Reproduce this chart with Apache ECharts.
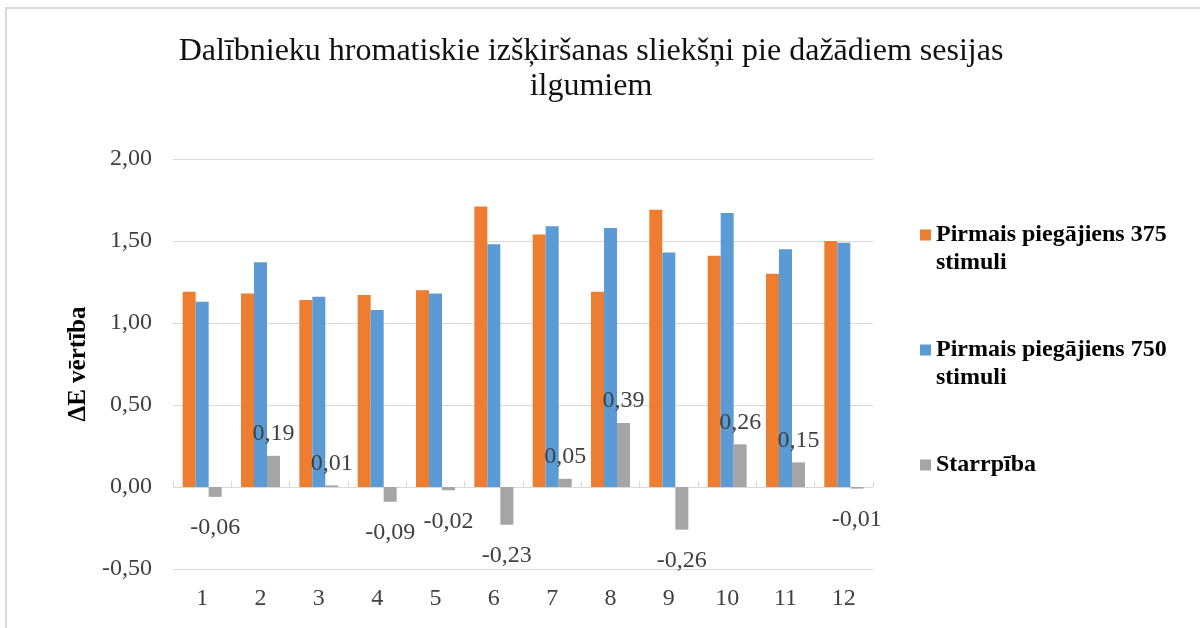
<!DOCTYPE html>
<html>
<head>
<meta charset="utf-8">
<script src="https://cdn.jsdelivr.net/npm/echarts@6/dist/echarts.min.js"></script>
<style>
  html, body { margin: 0; padding: 0; background: #fff; }
  #main { width: 1200px; height: 628px; }
</style>
</head>
<body>
<div id="main"></div>
<script>
var categories = ['1', '2', '3', '4', '5', '6', '7', '8', '9', '10', '11', '12'];
var first375 = [1.19, 1.18, 1.14, 1.17, 1.20, 1.71, 1.54, 1.19, 1.69, 1.41, 1.30, 1.50];
var first750 = [1.13, 1.37, 1.16, 1.08, 1.18, 1.48, 1.59, 1.58, 1.43, 1.67, 1.45, 1.49];
var difference = [-0.06, 0.19, 0.01, -0.09, -0.02, -0.23, 0.05, 0.39, -0.26, 0.26, 0.15, -0.01];
var seriesNames = ['Pirmais piegājiens 375 stimuli', 'Pirmais piegājiens 750 stimuli', 'Starrpība'];

var serif = '"Liberation Serif", "DejaVu Serif", serif';

function comma(v, digits) {
    return v.toFixed(digits).replace('.', ',');
}

// labels above positive bars, below negative ones
var diffData = difference.map(function (v) {
    return {
        value: v,
        label: { position: v < 0 ? 'bottom' : 'top', distance: v < 0 ? 19 : 10 }
    };
});

var chart = echarts.init(document.getElementById('main'));

var option = {
    backgroundColor: '#fff',
    animation: false,
    graphic: [{
        type: 'rect',
        shape: { x: 6, y: 8, width: 1210, height: 640 },
        style: { fill: 'none', stroke: '#d9d9d9', lineWidth: 2 },
        silent: true
    }],
    title: {
        text: 'Dalībnieku hromatiskie izšķiršanas sliekšņi pie dažādiem sesijas\nilgumiem',
        left: 586,
        top: 29,
        textAlign: 'center',
        textStyle: {
            fontFamily: serif,
            fontSize: 32,
            fontWeight: 'normal',
            color: '#111',
            lineHeight: 35
        }
    },
    legend: {
        orient: 'vertical',
        left: 920,
        top: 193,
        padding: 0,
        itemWidth: 11,
        itemHeight: 11,
        itemGap: 31,
        icon: 'rect',
        data: seriesNames,
        // blank first line keeps the marker level with the first text line
        formatter: function (name) {
            var i = name.lastIndexOf(' stimuli');
            if (i > 0) {
                return ' \n' + name.slice(0, i) + '\nstimuli';
            }
            return ' \n' + name + '\n ';
        },
        textStyle: {
            fontFamily: serif,
            fontSize: 24,
            fontWeight: 'bold',
            color: '#000',
            lineHeight: 28
        }
    },
    grid: {
        left: 173,
        right: 327,
        top: 159,
        bottom: 59,
        containLabel: false
    },
    xAxis: [{
        type: 'category',
        data: categories,
        position: 'bottom',
        axisLine: { show: false, onZero: false },
        axisTick: { show: false },
        axisLabel: {
            margin: 18,
            fontFamily: serif,
            fontSize: 24,
            color: '#404040'
        }
    }, {
        type: 'category',
        data: categories,
        position: 'bottom',
        axisLine: { show: true, onZero: true, lineStyle: { color: '#d9d9d9', width: 1 } },
        axisTick: { show: true, inside: true, length: 6, lineStyle: { color: '#d9d9d9' } },
        axisLabel: { show: false }
    }],
    yAxis: {
        type: 'value',
        min: -0.5,
        max: 2,
        interval: 0.5,
        name: 'ΔE vērtība',
        nameLocation: 'middle',
        nameGap: 73,
        nameRotate: 90,
        nameTextStyle: {
            fontFamily: serif,
            fontSize: 25,
            fontWeight: 'bold',
            color: '#000'
        },
        axisLine: { show: false },
        axisTick: { show: false },
        axisLabel: {
            margin: 21,
            fontFamily: serif,
            fontSize: 24,
            color: '#404040',
            formatter: function (v) { return comma(v, 2); }
        },
        splitLine: { lineStyle: { color: '#d9d9d9', width: 1 } }
    },
    series: [{
        name: seriesNames[0],
        type: 'bar',
        data: first375,
        barWidth: 13,
        barGap: '0%',
        itemStyle: { color: '#ED7D31' }
    }, {
        name: seriesNames[1],
        type: 'bar',
        data: first750,
        barWidth: 13,
        barGap: '0%',
        itemStyle: { color: '#5B9BD5' }
    }, {
        name: seriesNames[2],
        type: 'bar',
        data: diffData,
        barWidth: 13,
        barGap: '0%',
        itemStyle: { color: '#A5A5A5' },
        label: {
            show: true,
            fontFamily: serif,
            fontSize: 24,
            color: '#404040',
            formatter: function (p) { return comma(p.value, 2); }
        }
    }]
};

chart.setOption(option);
</script>
</body>
</html>
